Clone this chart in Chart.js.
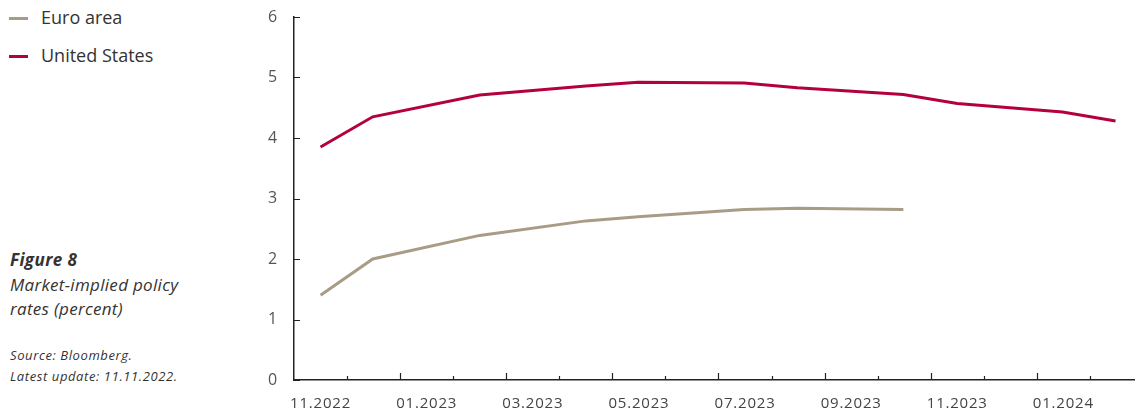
<!DOCTYPE html>
<html>
<head>
<meta charset="utf-8">
<script src="https://cdn.jsdelivr.net/npm/chart.js@4/dist/chart.umd.min.js"></script>
<style>
  html, body { margin: 0; padding: 0; background: #fff; }
  body { width: 1135px; height: 414px; position: relative; overflow: hidden; font-family: "Open Sans", Lato, sans-serif; color: #333; }
  #wrap { position: absolute; left: 230px; top: -15px; width: 905px; height: 429px; }
  .legend { position: absolute; left: 9px; font-size: 18px; color: #333; }
  .legend span { display: inline-block; width: 19px; height: 3px; vertical-align: middle; margin-right: 13px; position: relative; top: -1px; }
  .cap { position: absolute; left: 10px; font-style: italic; }
</style>
</head>
<body>
<div class="legend" id="lg0" style="top:5px"></div>
<div class="legend" id="lg1" style="top:43px"></div>
<div class="cap" style="top:248px;font-size:17px;font-weight:bold;letter-spacing:0.4px">Figure 8</div>
<div class="cap" style="top:273px;font-size:17px;line-height:24px;letter-spacing:0.3px">Market-implied policy<br>rates (percent)</div>
<div class="cap" style="top:345px;font-size:13px;line-height:21px;letter-spacing:0.6px">Source: Bloomberg.<br>Latest update: 11.11.2022.</div>
<div id="wrap"><canvas id="c"></canvas></div>
<script>
// observation dates (meeting-dated contracts)
const usDates = ["2022-11-16", "2022-12-16", "2023-02-15", "2023-04-16", "2023-05-16", "2023-07-16",
  "2023-08-16", "2023-10-16", "2023-11-16", "2024-01-16", "2024-02-15"];
const usRates = [3.85, 4.35, 4.71, 4.86, 4.92, 4.91, 4.83, 4.72, 4.57, 4.43, 4.28];
const euroDates = ["2022-11-16", "2022-12-16", "2023-02-15", "2023-04-16", "2023-05-16", "2023-07-16",
  "2023-08-16", "2023-10-16"];
const euroRates = [1.40, 2.00, 2.39, 2.63, 2.70, 2.82, 2.84, 2.82];
const xLabels = ["11.2022", "01.2023", "03.2023", "05.2023", "07.2023", "09.2023", "11.2023", "01.2024"];
const yTicks = [0, 1, 2, 3, 4, 5, 6];
const seriesNames = ["Euro area", "United States"];
const seriesColors = ["#a89c86", "#b4003c"];

// months since 1 Nov 2022
function monthPos(s) {
  const [y, m, d] = s.split("-").map(Number);
  const dim = new Date(y, m, 0).getDate();
  return (y - 2022) * 12 + (m - 11) + (d - 1) / dim;
}
const toPts = (dates, vals) => dates.map((d, i) => ({ x: monthPos(d), y: vals[i] }));

seriesNames.forEach((n, i) => {
  document.getElementById("lg" + i).innerHTML =
    '<span style="background:' + seriesColors[i] + '"></span>' + n;
});

const axisColor = "#222";

// tick marks pointing into the plot area
const innerTicks = {
  id: "innerTicks",
  beforeDraw(chart) {
    chart.ctx.letterSpacing = "0.8px";
  },
  afterDraw(chart) {
    const { ctx, scales: { x, y } } = chart;
    ctx.save();
    ctx.strokeStyle = axisColor;
    ctx.lineWidth = 1.2;
    ctx.beginPath();
    for (let m = 1; m <= Math.floor(x.max); m++) {
      const px = Math.round(x.getPixelForValue(m)) + 0.5;
      const len = m % 2 === 0 ? 7 : 4;
      ctx.moveTo(px, y.bottom);
      ctx.lineTo(px, y.bottom - len);
    }
    yTicks.forEach(v => {
      const py = Math.round(y.getPixelForValue(v)) + 0.5;
      ctx.moveTo(x.left, py);
      ctx.lineTo(x.left + 6, py);
    });
    ctx.stroke();
    ctx.restore();
  }
};

new Chart(document.getElementById("c"), {
  type: "line",
  data: {
    datasets: [
      { label: seriesNames[0], data: toPts(euroDates, euroRates), borderColor: seriesColors[0], borderWidth: 3, pointRadius: 0, tension: 0 },
      { label: seriesNames[1], data: toPts(usDates, usRates), borderColor: seriesColors[1], borderWidth: 3, pointRadius: 0, tension: 0 }
    ]
  },
  options: {
    responsive: true,
    maintainAspectRatio: false,
    animation: false,
    layout: { padding: { top: 32, right: 0, left: 0, bottom: 0 } },
    plugins: { legend: { display: false }, tooltip: { enabled: false } },
    scales: {
      x: {
        type: "linear",
        min: 0,
        max: 15.85,
        afterBuildTicks: (scale) => {
          scale.ticks = xLabels.map((l, i) => ({ value: i * 2 + 0.5 }));
        },
        afterFit: (scale) => { scale.height = 34; },
        border: { color: axisColor, width: 1.5 },
        grid: { drawOnChartArea: false, drawTicks: false },
        ticks: {
          autoSkip: false,
          maxRotation: 0,
          padding: 15,
          color: "#444",
          font: { family: "Open Sans", size: 15 },
          callback: (v) => xLabels[Math.round((v - 0.5) / 2)]
        }
      },
      y: {
        min: 0,
        max: 6,
        afterBuildTicks: (scale) => { scale.ticks = yTicks.map(v => ({ value: v })); },
        afterFit: (scale) => { scale.width = 64; },
        border: { color: axisColor, width: 1.5 },
        grid: { drawOnChartArea: false, drawTicks: false },
        ticks: { padding: 16, color: "#555", font: { family: "Open Sans", size: 16 } }
      }
    }
  },
  plugins: [innerTicks]
});
</script>
</body>
</html>
